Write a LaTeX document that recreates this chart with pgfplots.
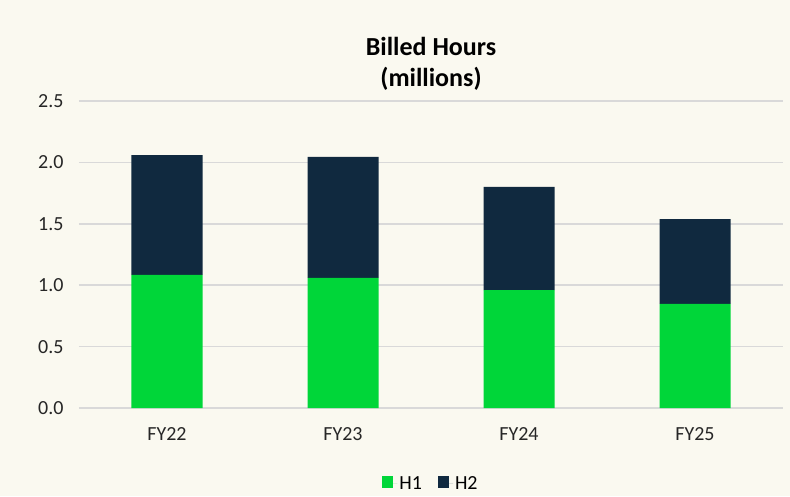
\documentclass[border=0pt]{standalone}
\usepackage{pgfplots}
\pgfplotsset{compat=1.18}
\usepackage{fontspec}
\setmainfont{Carlito}
\usetikzlibrary{backgrounds}
\definecolor{bgcol}{HTML}{FAF9F0}
\definecolor{hone}{HTML}{00D639}
\definecolor{htwo}{HTML}{10293F}
\definecolor{gridcol}{HTML}{D9D9D9}
\begin{document}
\begin{tikzpicture}
\begin{axis}[
    scale only axis,
    width=704pt, height=307pt,
    ybar stacked, bar width=71pt,
    xmin=-0.5, xmax=3.5,
    ymin=0, ymax=2.5,
    xtick=data,
    xticklabels={FY22, FY23, FY24, FY25},
    ytick={0, 0.5, 1, 1.5, 2, 2.5},
    yticklabel style={/pgf/number format/fixed, /pgf/number format/fixed zerofill, /pgf/number format/precision=1},
    /pgf/number format/assume math mode=true,
    tick label style={font=\fontsize{20}{22}\selectfont, text=black!85},
    xticklabel style={yshift=-16pt},
    yticklabel style={xshift=-12pt},
    axis line style={draw=none},
    major tick length=0pt,
    ymajorgrids, grid style={gridcol, line width=1.5pt},
    title={\textbf{Billed Hours}\\\textbf{(millions)}},
    title style={font=\fontsize{26}{31}\selectfont, align=center, yshift=1pt},
    legend style={at={(0.5,-0.215)}, anchor=north, legend columns=2, draw=none, fill=none,
      inner sep=0pt, font=\fontsize{20}{22}\selectfont, /tikz/every even column/.append style={column sep=14pt}},
    legend image code/.code={\fill[#1] (0pt,-5pt) rectangle (11pt,7pt); \path (0pt,0pt) -- (15pt,0pt);},
  ]
  \addplot[fill=hone, draw=none] coordinates {(0, 1.085) (1, 1.06) (2, 0.96) (3, 0.847)};
  \addlegendentry{H1}
  \addplot[fill=htwo, draw=none] coordinates {(0, 0.975) (1, 0.985) (2, 0.84) (3, 0.692)};
  \addlegendentry{H2}
  \coordinate (sw) at (rel axis cs:0,0);
  \coordinate (ne) at (rel axis cs:1,1);
\end{axis}
\begin{scope}[on background layer]
  \fill[bgcol] ([shift={(-79pt,-88pt)}]sw) rectangle ([shift={(7pt,101pt)}]ne);
\end{scope}
\useasboundingbox ([shift={(-79pt,-88pt)}]sw) rectangle ([shift={(7pt,101pt)}]ne);
\end{tikzpicture}
\end{document}
